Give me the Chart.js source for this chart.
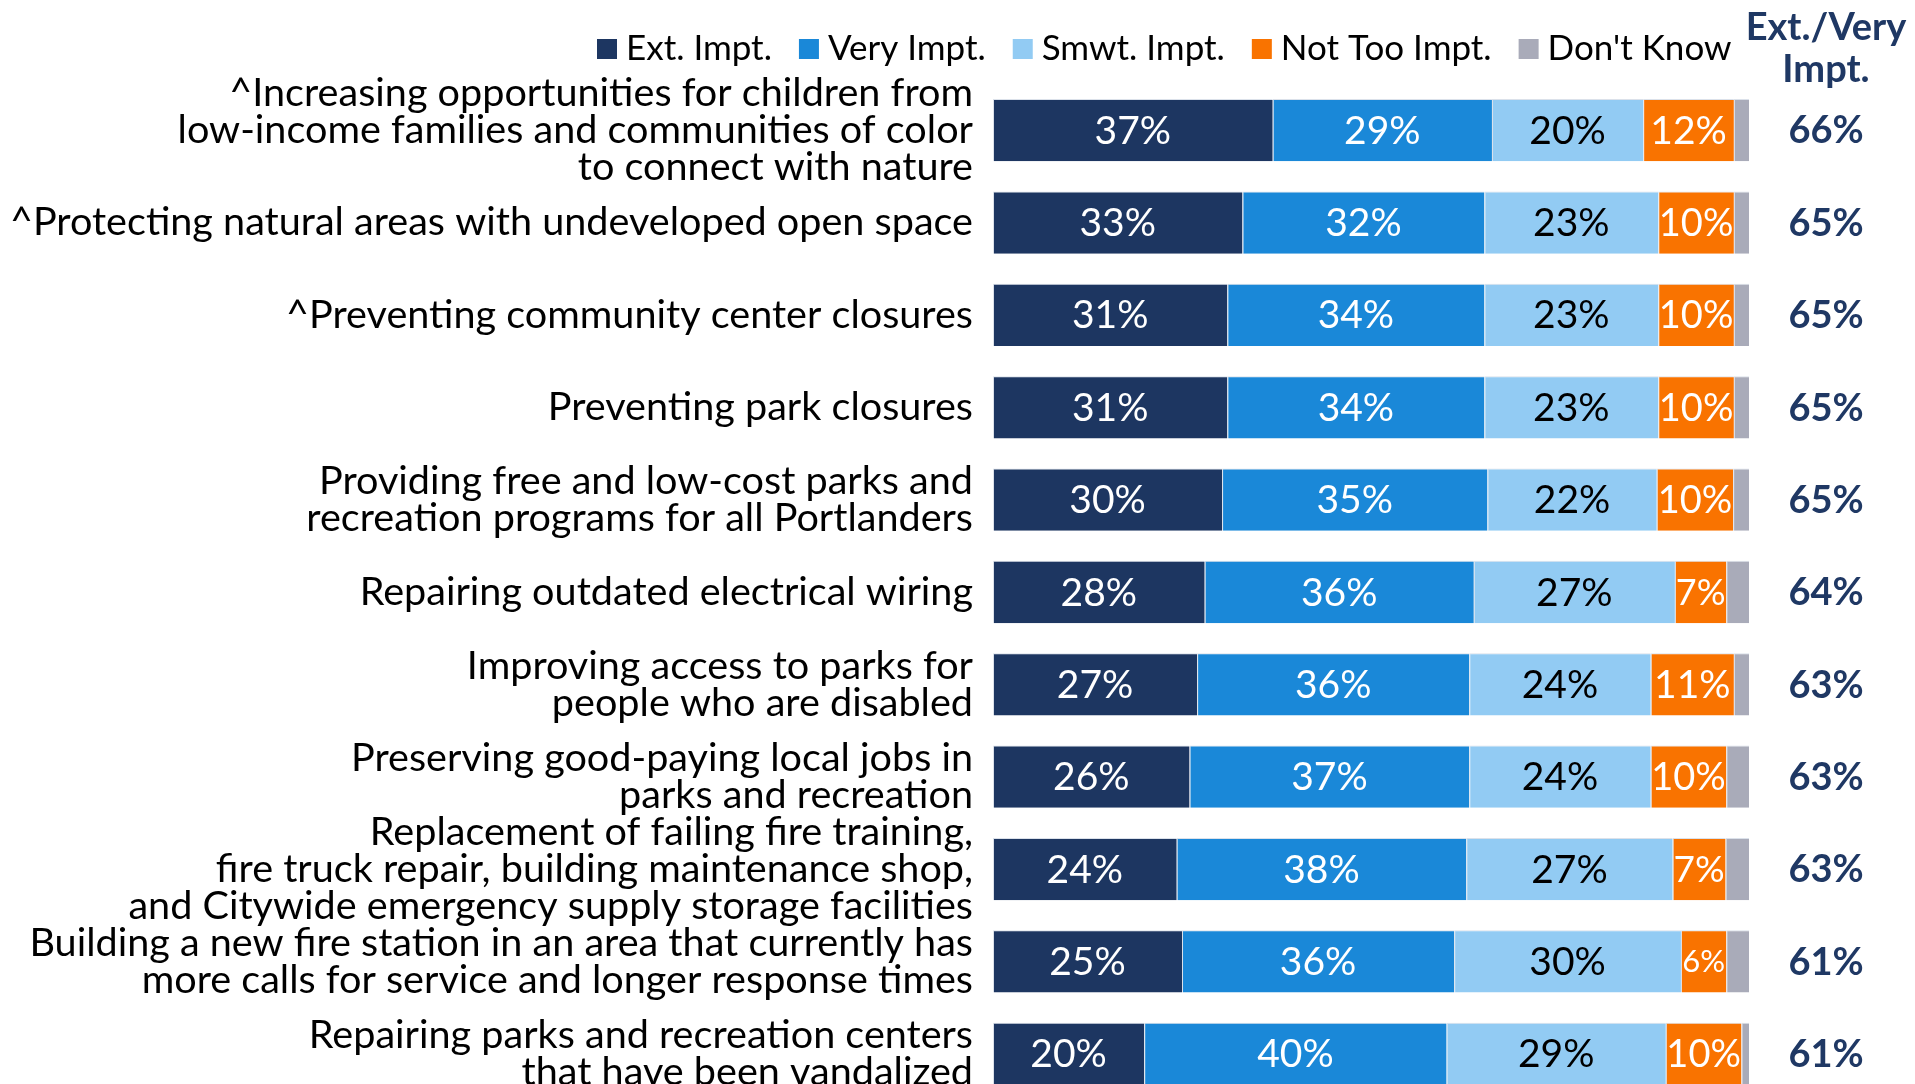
<!DOCTYPE html>
<html>
<head>
<meta charset="utf-8">
<script src="https://cdn.jsdelivr.net/npm/chart.js@4.4.1/dist/chart.umd.min.js"></script>
<style>
  html, body { margin: 0; padding: 0; background: #fff; overflow: hidden; }
  canvas { display: block; }
</style>
</head>
<body>
<canvas id="chart" width="1915" height="1104"></canvas>
<script>
const FONT = "Lato, 'Noto Sans', sans-serif";

// Data
const categories = [
  ['^Increasing opportunities for children from', 'low-income families and communities of color', 'to connect with nature'],
  '^Protecting natural areas with undeveloped open space',
  '^Preventing community center closures',
  'Preventing park closures',
  ['Providing free and low-cost parks and', 'recreation programs for all Portlanders'],
  'Repairing outdated electrical wiring',
  ['Improving access to parks for', 'people who are disabled'],
  ['Preserving good-paying local jobs in', 'parks and recreation'],
  ['Replacement of failing fire training,', 'fire truck repair, building maintenance shop,', 'and Citywide emergency supply storage facilities'],
  ['Building a new fire station in an area that currently has', 'more calls for service and longer response times'],
  ['Repairing parks and recreation centers', 'that have been vandalized'],
];

const extImpt    = [37, 33, 31, 31, 30.3, 28,   27, 26, 24.3, 25, 20];
const veryImpt   = [29, 32, 34, 34, 35.1, 35.6, 36, 37, 38.3, 36, 40];
const smwtImpt   = [20, 23, 23, 23, 22.4, 26.6, 24, 24, 27.3, 30, 29];
const notTooImpt = [12, 10, 10, 10, 10.1, 6.8,  11, 10, 7,    6,  10];
const dontKnow   = [2,  2,  2,  2,  2.1,  3,    2,  3,  3.1,  3,  1];
const extVeryTotal = [66, 65, 65, 65, 65, 64, 63, 63, 63, 61, 61];

const NAVY = '#1F3864';

// Plugins
const segmentLabels = {
  id: 'segmentLabels',
  afterDatasetsDraw(chart) {
    const { ctx } = chart;
    ctx.save();
    ctx.textAlign = 'center';
    ctx.textBaseline = 'middle';
    chart.data.datasets.forEach((ds, di) => {
      if (!ds.textColor) return;
      const meta = chart.getDatasetMeta(di);
      meta.data.forEach((bar, i) => {
        const txt = Math.round(ds.data[i]) + '%';
        const w = Math.abs(bar.x - bar.base);
        // very narrow segments (the 6% one) get a smaller font
        let size = w < 48 ? 31 : 39;
        ctx.font = `${size}px ${FONT}`;
        while (ctx.measureText(txt).width > w - 1 && size > 12) {
          size--;
          ctx.font = `${size}px ${FONT}`;
        }
        ctx.fillStyle = ds.textColor;
        ctx.fillText(txt, (bar.x + bar.base) / 2, bar.y + 1);
      });
    });
    ctx.restore();
  }
};

const totalsColumn = {
  id: 'totalsColumn',
  afterDatasetsDraw(chart) {
    const { ctx } = chart;
    const meta = chart.getDatasetMeta(0);
    const x = 1826;
    ctx.save();
    ctx.fillStyle = NAVY;
    ctx.textAlign = 'center';
    ctx.textBaseline = 'middle';
    ctx.font = `bold 38px ${FONT}`;
    ctx.fillText('Ext./Very', x, 28);
    ctx.fillText('Impt.', x, 70);
    meta.data.forEach((bar, i) => {
      ctx.fillText(extVeryTotal[i] + '%', x, bar.y + 1);
    });
    ctx.restore();
  }
};

const legendRow = {
  id: 'legendRow',
  afterDraw(chart) {
    const { ctx } = chart;
    let x = 597;
    const y = 49;
    ctx.save();
    ctx.font = `35px ${FONT}`;
    ctx.textBaseline = 'middle';
    ctx.textAlign = 'left';
    chart.data.datasets.forEach(ds => {
      ctx.fillStyle = ds.backgroundColor;
      ctx.fillRect(x, y - 10, 20, 20);
      x += 29;
      ctx.fillStyle = '#000';
      ctx.fillText(ds.label, x, y);
      x += ctx.measureText(ds.label).width + 27;
    });
    ctx.restore();
  }
};

// Chart
const ctx = document.getElementById('chart').getContext('2d');
new Chart(ctx, {
  type: 'bar',
  data: {
    labels: categories,
    datasets: [
      { label: 'Ext. Impt.',    data: extImpt,    backgroundColor: '#1D3661', textColor: '#fff' },
      { label: 'Very Impt.',    data: veryImpt,   backgroundColor: '#1A88D8', textColor: '#fff' },
      { label: 'Smwt. Impt.',   data: smwtImpt,   backgroundColor: '#92CBF3', textColor: '#000' },
      { label: 'Not Too Impt.', data: notTooImpt, backgroundColor: '#F97300', textColor: '#fff' },
      { label: "Don't Know",    data: dontKnow,   backgroundColor: '#A9ABB9' },
    ],
  },
  options: {
    indexAxis: 'y',
    responsive: false,
    animation: false,
    layout: { padding: { top: 84, right: 166, bottom: 4, left: 0 } },
    datasets: {
      bar: {
        categoryPercentage: 1,
        barPercentage: 0.674,
        borderWidth: { top: 1, left: 1, right: 0, bottom: 0 },
        borderColor: 'rgba(215,222,232,0.9)',
        borderSkipped: false,
      },
    },
    scales: {
      x: { stacked: true, min: 0, max: 100, display: false },
      y: {
        stacked: true,
        grid: { display: false, drawTicks: false },
        border: { display: false },
        ticks: {
          color: '#000',
          autoSkip: false,
          padding: 20,
          font: { family: FONT, size: 39.6, lineHeight: 0.94 },
        },
        afterFit(scale) {
          // fixed label column, and let the multi-line labels overflow the plot edges
          scale.width = 993;
          scale.paddingTop = 0;
          scale.paddingBottom = 0;
        },
      },
    },
    plugins: {
      legend: { display: false },
      tooltip: { enabled: false },
    },
  },
  plugins: [segmentLabels, totalsColumn, legendRow],
});
</script>
</body>
</html>
